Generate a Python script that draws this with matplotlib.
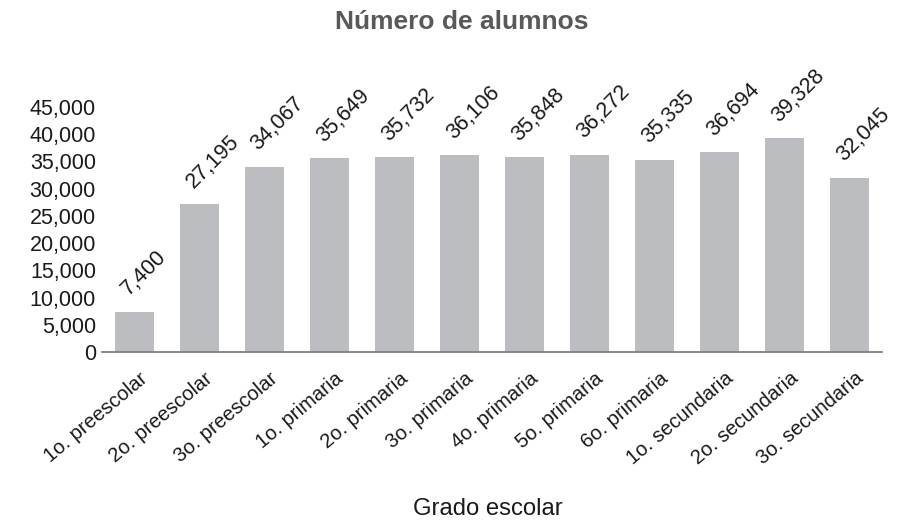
import matplotlib
matplotlib.use("Agg")
import matplotlib.pyplot as plt
from matplotlib.ticker import FuncFormatter
from matplotlib.transforms import ScaledTranslation

categories = ["1o. preescolar", "2o. preescolar", "3o. preescolar", "1o. primaria",
              "2o. primaria", "3o. primaria", "4o. primaria", "5o. primaria",
              "6o. primaria", "1o. secundaria", "2o. secundaria", "3o. secundaria"]
values = [7400, 27195, 34067, 35649, 35732, 36106, 35848, 36272, 35335, 36694, 39328, 32045]
title = "Número de alumnos"
xlabel = "Grado escolar"

plt.rcParams['font.family'] = ['Liberation Sans', 'DejaVu Sans']
txt = "#1a1a1a"

fig = plt.figure(figsize=(9.07, 5.2), dpi=100)
ax = fig.add_axes([101.5/907, 1-352/520, (882.5-101.5)/907, (352-107)/520])

x = list(range(len(categories)))
ax.bar(x, values, width=0.6, color="#BCBDC0", zorder=2)
ax.set_xlim(-0.5, len(categories)-0.5)
ax.set_ylim(0, 45000)
ax.set_yticks(range(0, 45001, 5000))
ax.yaxis.set_major_formatter(FuncFormatter(lambda v, p: f"{int(v):,}"))

for xi, v in zip(x, values):
    ax.annotate(f"{v:,}", (xi, v), xytext=(-1.5, 8.5), textcoords="offset points",
                rotation=45, ha="left", va="bottom", rotation_mode="anchor",
                fontsize=15.5, color=txt)

ax.set_xticks(x)
ax.set_xticklabels(categories, rotation=40, ha="right", va="top",
                   rotation_mode="anchor", fontsize=14.5, color=txt)
ax.tick_params(axis='x', length=0, pad=12)
off = ScaledTranslation(3.5/72, 0, fig.dpi_scale_trans)
for lab in ax.get_xticklabels():
    lab.set_transform(lab.get_transform() + off)
ax.tick_params(axis='y', length=0, pad=4, labelsize=15.5, labelcolor=txt)
for s in ["top", "right", "left"]:
    ax.spines[s].set_visible(False)
ax.spines["bottom"].set_color("#808080")
ax.spines["bottom"].set_linewidth(1.3)

fig.text(461.5/907, 1-22/520, title, ha="center", va="center", fontsize=19,
         fontweight="bold", color="#595959")
fig.text(488/907, 1-509/520, xlabel, ha="center", va="center", fontsize=17.2, color=txt)

fig.savefig("out.png", dpi=100)
